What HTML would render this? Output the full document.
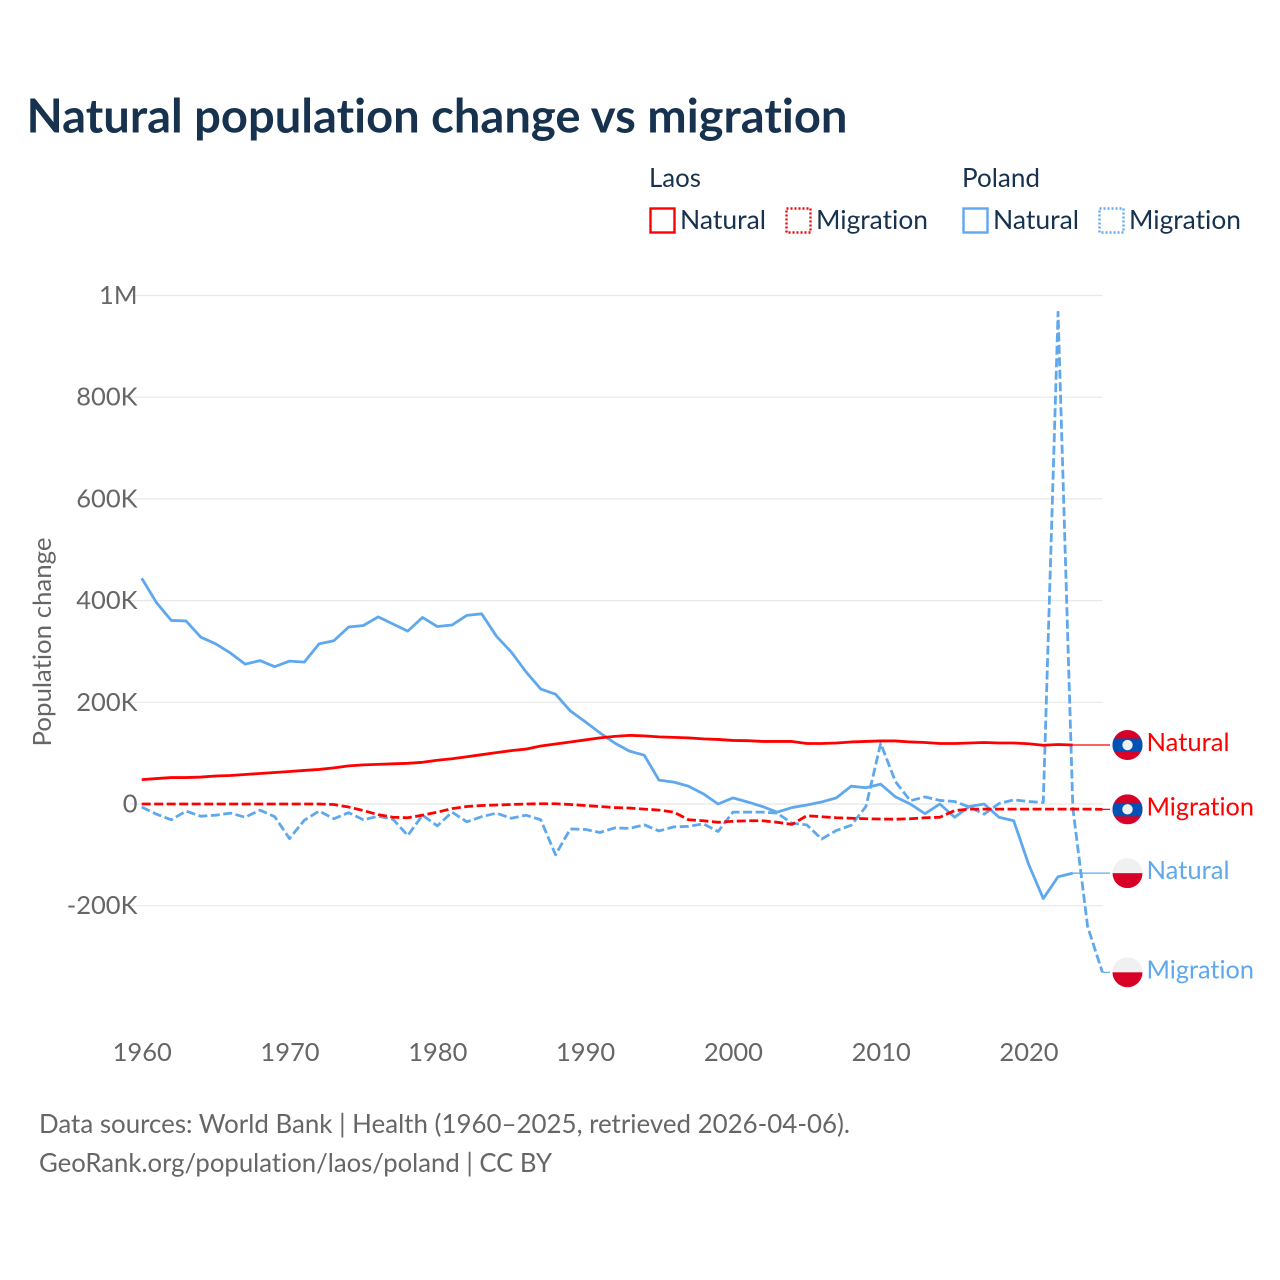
<!DOCTYPE html>
<html lang="en">
<head>
<meta charset="utf-8">
<title>Natural population change vs migration</title>
<style>
html,body{margin:0;padding:0;background:#fff;width:1280px;height:1280px;overflow:hidden}
svg{display:block}
text{font-family:"Lato","Carlito","Liberation Sans",sans-serif;font-variant-ligatures:none;font-feature-settings:"liga" 0,"clig" 0}
</style>
</head>
<body>
<svg id="chart" xmlns="http://www.w3.org/2000/svg" width="1280" height="1280" viewBox="0 0 1280 1280">
  <text x="26.5" y="132.5" font-size="46.5" font-weight="700" fill="#17324f" textLength="821" lengthAdjust="spacingAndGlyphs">Natural population change vs migration</text>

  <g>
    <text x="649" y="187" font-size="26.5" fill="#17324f" textLength="52" lengthAdjust="spacingAndGlyphs">Laos</text>
    <text x="962" y="187" font-size="26.5" fill="#17324f" textLength="78" lengthAdjust="spacingAndGlyphs">Poland</text>
    <g>
      <rect x="650.5" y="208.5" width="24" height="24" fill="none" stroke="#ff0000" stroke-width="2.4"/>
      <text x="680" y="229" font-size="26.5" fill="#17324f" textLength="86" lengthAdjust="spacingAndGlyphs">Natural</text>
    </g>
    <g>
      <rect x="786.5" y="208.5" width="24" height="24" fill="none" stroke="#ff0000" stroke-width="2.4" stroke-dasharray="2 2"/>
      <text x="816" y="229" font-size="26.5" fill="#17324f" textLength="112" lengthAdjust="spacingAndGlyphs">Migration</text>
    </g>
    <g>
      <rect x="963.5" y="208.5" width="24" height="24" fill="none" stroke="#5fa8ee" stroke-width="2.4"/>
      <text x="993" y="229" font-size="26.5" fill="#17324f" textLength="86" lengthAdjust="spacingAndGlyphs">Natural</text>
    </g>
    <g>
      <rect x="1099.5" y="208.5" width="24" height="24" fill="none" stroke="#5fa8ee" stroke-width="2.4" stroke-dasharray="2 2"/>
      <text x="1129" y="229" font-size="26.5" fill="#17324f" textLength="112" lengthAdjust="spacingAndGlyphs">Migration</text>
    </g>
  </g>

  <text transform="translate(51,642) rotate(-90)" text-anchor="middle" font-size="25.5" fill="#666666" textLength="209" lengthAdjust="spacingAndGlyphs">Population change</text>

  <g id="grid"></g>
  <g id="yaxis"></g>
  <g id="xaxis"></g>
  <g id="series"></g>
  <g id="ends"></g>

  <text x="39" y="1133" font-size="26.5" fill="#666666" textLength="811" lengthAdjust="spacingAndGlyphs">Data sources: World Bank | Health (1960–2025, retrieved 2026-04-06).</text>
  <text x="39" y="1172" font-size="26.5" fill="#666666" textLength="513" lengthAdjust="spacingAndGlyphs">GeoRank.org/population/laos/poland | CC BY</text>
</svg>

<script>
const startYear = 1960;
const xTickYears = [1960, 1970, 1980, 1990, 2000, 2010, 2020];
const yTickValues = [-200, 0, 200, 400, 600, 800, 1000];
const yTickLabels = ['-200K', '0', '200K', '400K', '600K', '800K', '1M'];

// Values in thousands, one per year from 1960.
const laosNatural = [48,50,52,52,53,55,56,58,60,62,64,66,68,71,75,77,78,79,80,82,86,89,93,97,101,105,108,114,118,122,126,130,133,135,134,132,131,130,128,127,125,124.5,123,123,123,119,119,120,122,123,124,124,122,121,119,119,120,121,120,120,118.5,115.5,117,116];
const laosMigration = [0,0,0,0,0,0,0,0,0,0,0,0,0,-1,-6,-13,-21,-26,-27,-22,-16,-9,-5,-3,-2,-1,0,0.5,0.5,-1,-3,-5,-7,-8,-10,-12,-16,-31,-33,-36,-34,-33,-33,-36,-40,-23,-25,-27,-28,-29,-29.5,-30,-29,-27,-26,-13,-10,-10,-10,-10,-10,-10,-10,-10,-10,-10.5];
const polandNatural = [444,396,361,360,328,315,297,275,282,270,281,279,315,321,348,351,368,354,340,367,349,352,371,374,330,299,260,226,216,183,162,140,120,104,96,47,43,35,20,0,12,4,-5,-16,-7,-2,4,12,35,32,39,14,0,-19,0,-26,-5,0,-26,-33,-118,-186,-143,-136];
const polandMigration = [-6,-20,-31,-14,-24,-22,-18,-26,-12,-25,-68,-32,-14,-29,-17,-31,-24,-30,-62,-22,-43,-16,-35,-25,-18,-28,-22,-31,-100,-49,-50,-56,-47,-48,-41,-53,-45,-44,-39,-54,-16,-16,-16,-18,-38,-41,-69,-52,-42,-5,119,44,6.5,14,7,5,-6,-20,1,8,5,3,967,-8,-241,-331];

const SVG_NS = 'http://www.w3.org/2000/svg';
const RED = '#ff0000';
const BLUE = '#5fa8ee';
const GREY = '#666666';

function xScale(year) { return 141.7 + (year - 1960) * 14.78; }
function yScale(v) { return 804 - v * 0.5085; }
function make(tag, attrs, parent) {
  const el = document.createElementNS(SVG_NS, tag);
  for (const k in attrs) el.setAttribute(k, attrs[k]);
  parent.appendChild(el);
  return el;
}

const grid = document.getElementById('grid');
const yaxis = document.getElementById('yaxis');
const xaxis = document.getElementById('xaxis');
const seriesLayer = document.getElementById('series');
const ends = document.getElementById('ends');

yTickValues.forEach(function (v, i) {
  const line = make('line', {x1: 130, x2: 1102.5, y1: yScale(v), y2: yScale(v), stroke: '#e8e8e8', 'stroke-width': 1.2}, grid);
  
  
  const t = make('text', {x: 137.5, y: yScale(v) + 8.5, 'text-anchor': 'end', 'font-size': 25.5, fill: GREY}, yaxis);
  
  
  t.textContent = yTickLabels[i];
});

xTickYears.forEach(function (yr) {
  const t = make('text', {x: xScale(yr) + 0.5, y: 1061, 'text-anchor': 'middle', 'font-size': 25.5, fill: GREY}, xaxis);
  
  
  t.textContent = yr;
});

function drawSeries(values, color, dashed, name) {
  const pts = values.map(function (v, i) { return xScale(startYear + i).toFixed(2) + ',' + yScale(v).toFixed(2); }).join(' ');
  const attrs = {points: pts, fill: 'none', stroke: color, 'stroke-width': 2.8, 'stroke-linejoin': 'round'};
  if (dashed) attrs['stroke-dasharray'] = '9 3.5';
  const line = make('polyline', attrs, seriesLayer);
  
  
}

function drawFlag(country, cy, parent) {
  const cx = 1127.5, r = 15;
  const id = 'clip-' + country + '-' + Math.round(cy);
  const clip = make('clipPath', {id: id}, parent);
  make('circle', {cx: cx, cy: cy, r: r}, clip);
  const g = make('g', {'clip-path': 'url(#' + id + ')'}, parent);
  
  
  if (country === 'laos') {
    make('rect', {x: cx - r, y: cy - r, width: 2 * r, height: 2 * r, fill: '#d80027'}, g);
    make('rect', {x: cx - r, y: cy - 6.5, width: 2 * r, height: 13.5, fill: '#0052b4'}, g);
    make('circle', {cx: cx, cy: cy, r: 5.2, fill: '#f0f0f0'}, g);
  } else {
    make('rect', {x: cx - r, y: cy - r, width: 2 * r, height: r, fill: '#f0f0f0'}, g);
    make('rect', {x: cx - r, y: cy, width: 2 * r, height: r, fill: '#d80027'}, g);
  }
}

function drawEnd(values, color, country, label) {
  const lastX = xScale(startYear + values.length - 1);
  const cy = yScale(values[values.length - 1]);
  const leader = make('line', {x1: lastX, x2: 1110, y1: cy, y2: cy, stroke: color, 'stroke-width': 1.2}, ends);
  
  
  drawFlag(country, cy, ends);
  const t = make('text', {x: 1146.5, y: cy + 6, 'font-size': 25.5, fill: color, textLength: label === 'Natural' ? 83 : 107.5, lengthAdjust: 'spacingAndGlyphs'}, ends);
  
  
  t.textContent = label;
}

drawSeries(polandNatural, BLUE, false, 'line-poland-natural');
drawSeries(polandMigration, BLUE, true, 'line-poland-migration');
drawSeries(laosNatural, RED, false, 'line-laos-natural');
drawSeries(laosMigration, RED, true, 'line-laos-migration');

drawEnd(laosNatural, RED, 'laos', 'Natural');
drawEnd(laosMigration, RED, 'laos', 'Migration');
drawEnd(polandNatural, BLUE, 'poland', 'Natural');
drawEnd(polandMigration, BLUE, 'poland', 'Migration');
</script>
</body>
</html>
